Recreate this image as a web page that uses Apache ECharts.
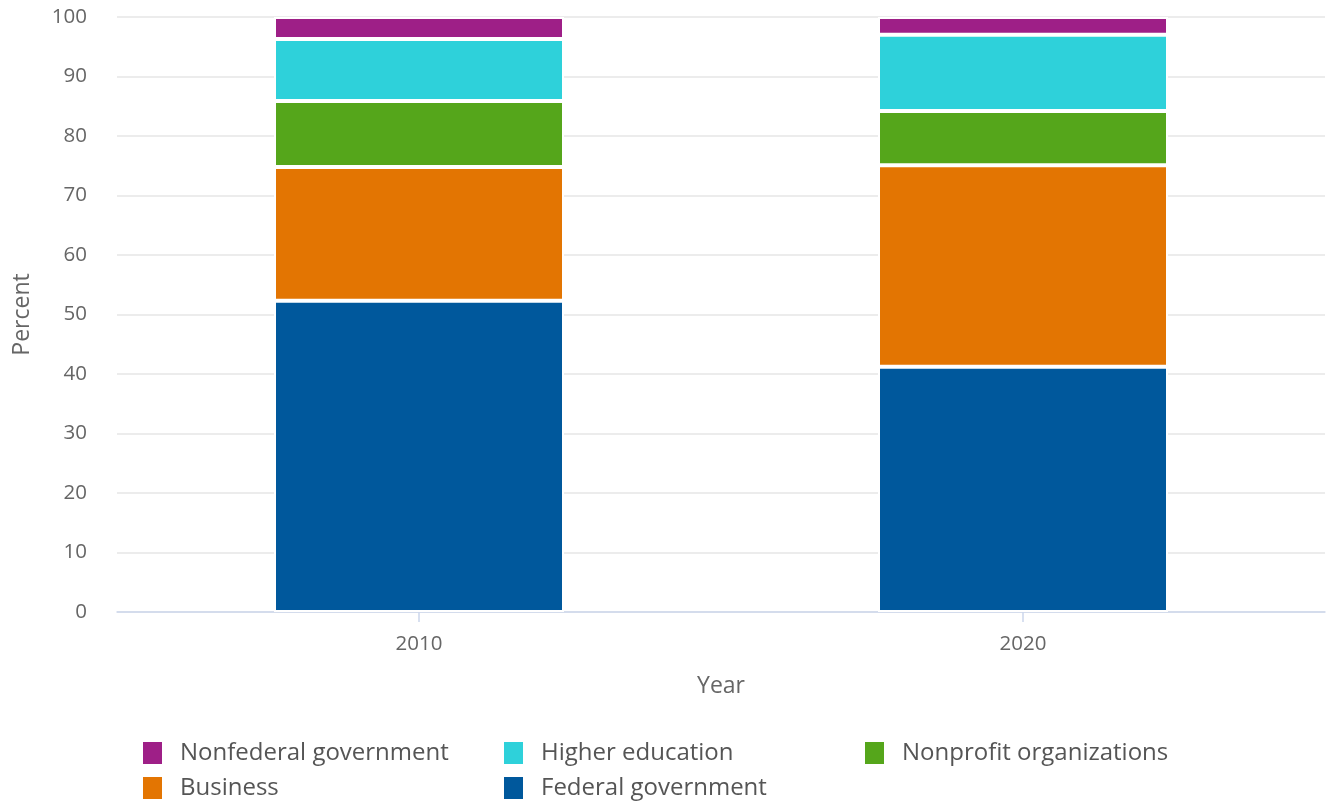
<!DOCTYPE html>
<html>
<head>
<meta charset="utf-8">
<script src="https://cdn.jsdelivr.net/npm/echarts@6/dist/echarts.min.js"></script>
<style>
html,body{margin:0;padding:0;background:#fff;}
#chart{width:1330px;height:806px;}
</style>
</head>
<body>
<div id="chart"></div>
<script>
const categories = ['2010', '2020'];
const federalGovernment = [52.3, 41.2];
const business = [22.5, 33.9];
const nonprofitOrganizations = [11.1, 9.1];
const higherEducation = [10.4, 12.8];
const nonfederalGovernment = [3.7, 3.0];
const yTicks = { min: 0, max: 100, interval: 10 };
const legendOrder = ['Nonfederal government', 'Higher education', 'Nonprofit organizations', 'Business', 'Federal government'];

const colors = {
  'Federal government': '#00589c',
  'Business': '#e37502',
  'Nonprofit organizations': '#55a61b',
  'Higher education': '#2ed1da',
  'Nonfederal government': '#9e1f87'
};
const seriesData = [
  ['Federal government', federalGovernment],
  ['Business', business],
  ['Nonprofit organizations', nonprofitOrganizations],
  ['Higher education', higherEducation],
  ['Nonfederal government', nonfederalGovernment]
];

const font = '"Open Sans", "Noto Sans", sans-serif';
const chart = echarts.init(document.getElementById('chart'), null, { renderer: 'canvas' });
chart.setOption({
  animation: false,
  textStyle: { fontFamily: font },
  grid: { left: 117, right: 5, top: 17, bottom: 194, containLabel: false, outerBoundsMode: 'none' },
  legend: {
    data: legendOrder,
    left: 141,
    top: 740,
    width: 1100,
    padding: 0,
    itemWidth: 21,
    itemHeight: 24,
    itemGap: 9,
    icon: 'rect',
    textStyle: {
      fontFamily: font,
      fontSize: 24,
      color: '#555555',
      width: 313,
      lineHeight: 24,
      padding: [0, 0, 0, 12]
    }
  },
  xAxis: {
    type: 'category',
    data: categories,
    name: 'Year',
    nameLocation: 'middle',
    nameGap: 63,
    nameMoveOverlap: false,
    nameTextStyle: { fontFamily: font, fontSize: 23, color: '#666666' },
    axisLine: { show: true, lineStyle: { color: '#ccd6eb', width: 1.5 } },
    axisTick: { show: true, alignWithLabel: true, length: 10, lineStyle: { color: '#ccd6eb', width: 1.5 } },
    axisLabel: { fontFamily: font, fontSize: 20.5, color: '#666666', margin: 22 },
    splitLine: { show: false }
  },
  yAxis: {
    type: 'value',
    min: yTicks.min,
    max: yTicks.max,
    interval: yTicks.interval,
    name: 'Percent',
    nameLocation: 'middle',
    nameGap: 83,
    nameRotate: 90,
    nameMoveOverlap: false,
    nameTextStyle: { fontFamily: font, fontSize: 23, color: '#666666' },
    axisLine: { show: false },
    axisTick: { show: false },
    axisLabel: { fontFamily: font, fontSize: 20.5, color: '#666666', margin: 30 },
    splitLine: { show: true, lineStyle: { color: '#e6e6e6', width: 1.5 } }
  },
  series: seriesData.map(([name, values]) => ({
    name: name,
    type: 'bar',
    stack: 'total',
    data: values,
    barWidth: 290,
    itemStyle: { color: colors[name], borderColor: '#ffffff', borderWidth: 2 },
    emphasis: { disabled: true }
  }))
});
</script>
</body>
</html>
